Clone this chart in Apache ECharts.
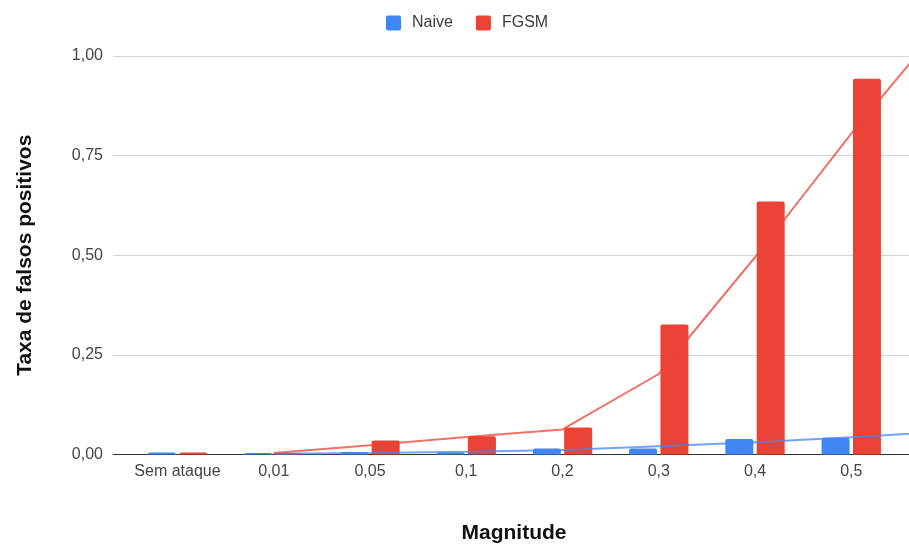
<!DOCTYPE html>
<html>
<head>
<meta charset="utf-8">
<script src="https://cdn.jsdelivr.net/npm/echarts@6/dist/echarts.min.js"></script>
<style>
  html, body { margin: 0; padding: 0; background: #fff; }
  #chart { width: 909px; height: 547px; }
</style>
</head>
<body>
<div id="chart"></div>
<script>
// Attack magnitudes along the horizontal axis
const categories = ['Sem ataque', '0,01', '0,05', '0,1', '0,2', '0,3', '0,4', '0,5'];

// False-positive rate per magnitude
const naive = [0.005, 0.004, 0.006, 0.005, 0.015, 0.015, 0.039, 0.042];
const fgsm  = [0.005, 0.004, 0.035, 0.046, 0.068, 0.326, 0.635, 0.943];

// Trend lines, sampled at category positions 1..8 (the last one runs past the plot edge and is clipped)
const trendPositions = [1, 2, 3, 4, 5, 6, 7, 8];
const naiveTrend = [0.002, 0.004, 0.007, 0.0115, 0.021, 0.031, 0.043, 0.058];
const fgsmTrend  = [0.004, 0.023, 0.044, 0.063, 0.202, 0.495, 0.805, 1.095];

// Vertical axis ticks
const yTicks = [0, 0.25, 0.5, 0.75, 1];

const BLUE = '#4285F4';
const RED = '#EA4335';
const FONT = 'Arial, "Liberation Sans", sans-serif';

const chart = echarts.init(document.getElementById('chart'), null, { renderer: 'canvas' });

chart.setOption({
  animation: false,
  backgroundColor: '#ffffff',
  textStyle: { fontFamily: FONT },
  legend: {
    data: ['Naive', 'FGSM'],
    left: 381,
    top: 10,
    icon: 'path://M2,0 L13,0 Q15,0 15,2 L15,13 Q15,15 13,15 L2,15 Q0,15 0,13 L0,2 Q0,0 2,0 Z',
    itemWidth: 15,
    itemHeight: 15,
    itemGap: 23,
    textStyle: { fontSize: 16, color: '#3c3c3c', fontFamily: FONT, padding: [0, 0, 0, 6] }
  },
  grid: { left: 113, right: 0, top: 56, bottom: 92.5, containLabel: false, outerBoundsMode: 'none' },
  xAxis: {
    type: 'value',
    min: -0.67,
    max: 7.6,
    name: 'Magnitude',
    nameLocation: 'middle',
    nameGap: 68,
    nameTextStyle: { fontSize: 21, fontWeight: 'bold', color: '#111', fontFamily: FONT, padding: [0, 0, 0, 6] },
    axisLine: { show: true, lineStyle: { color: '#333', width: 1 } },
    axisTick: { show: false },
    splitLine: { show: false },
    axisLabel: {
      customValues: categories.map((c, i) => i),
      formatter: v => categories[Math.round(v)] || '',
      fontSize: 16,
      color: '#444',
      margin: 9,
      fontFamily: FONT
    }
  },
  yAxis: {
    type: 'value',
    min: yTicks[0],
    max: yTicks[yTicks.length - 1],
    interval: yTicks[1] - yTicks[0],
    name: 'Taxa de falsos positivos',
    nameLocation: 'middle',
    nameGap: 77,
    nameTextStyle: { fontSize: 21, fontWeight: 'bold', color: '#111', fontFamily: FONT },
    axisLine: { show: false },
    axisTick: { show: false },
    splitLine: { show: true, lineStyle: { color: '#d3d3d3', width: 1 } },
    axisLabel: {
      formatter: v => v.toFixed(2).replace('.', ','),
      fontSize: 16,
      color: '#444',
      margin: 10,
      fontFamily: FONT
    }
  },
  series: [
    {
      name: 'Naive',
      type: 'bar',
      barWidth: 28,
      barGap: '12%',
      itemStyle: { color: BLUE, borderRadius: [2, 2, 0, 0] },
      data: naive.map((v, i) => [i, v]),
      z: 2
    },
    {
      name: 'FGSM',
      type: 'bar',
      barWidth: 28,
      barGap: '12%',
      itemStyle: { color: RED, borderRadius: [2, 2, 0, 0] },
      data: fgsm.map((v, i) => [i, v]),
      z: 2
    },
    {
      name: 'Naive tendência',
      type: 'line',
      data: trendPositions.map((x, i) => [x, naiveTrend[i]]),
      showSymbol: false,
      symbol: 'none',
      clip: true,
      lineStyle: { color: BLUE, width: 2, opacity: 0.75 },
      z: 3
    },
    {
      name: 'FGSM tendência',
      type: 'line',
      data: trendPositions.map((x, i) => [x, fgsmTrend[i]]),
      showSymbol: false,
      symbol: 'none',
      clip: true,
      lineStyle: { color: RED, width: 2, opacity: 0.75 },
      z: 3
    }
  ]
});
</script>
</body>
</html>
